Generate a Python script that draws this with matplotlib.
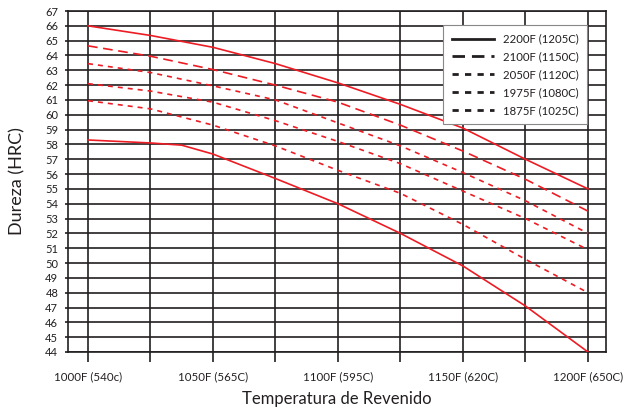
import matplotlib
matplotlib.use('Agg')
import matplotlib.pyplot as plt
from matplotlib.lines import Line2D

plt.rcParams['font.family'] = ['Lato', 'DejaVu Sans']
plt.rcParams['lines.scale_dashes'] = False

# temperatura de revenido (F)
temps = [1000, 1025, 1050, 1075, 1100, 1125, 1150, 1175, 1200]
hrc_2200 = [66.0, 65.35, 64.55, 63.45, 62.15, 60.7, 59.1, 57.0, 55.0]
hrc_2100 = [64.65, 63.95, 63.05, 62.0, 60.85, 59.3, 57.55, 55.65, 53.5]
hrc_2050 = [63.45, 62.85, 61.95, 61.0, 59.45, 57.9, 56.1, 54.2, 52.0]
hrc_1975 = [62.1, 61.6, 60.85, 59.6, 58.2, 56.7, 54.85, 53.0, 50.9]
hrc_1875 = [60.95, 60.4, 59.3, 57.9, 56.25, 54.7, 52.6, 50.25, 48.0]
# curva inferior (sem legenda)
temps_low = [1000, 1025, 1037.5, 1050, 1075, 1100, 1125, 1150, 1175, 1200]
hrc_low = [58.3, 58.1, 57.95, 57.35, 55.7, 54.0, 52.0, 49.8, 47.1, 44.0]

legend_labels = ['2200F (1205C)', '2100F (1150C)', '2050F (1120C)',
                 '1975F (1080C)', '1875F (1025C)']
x_ticks = [1000, 1050, 1100, 1150, 1200]
x_ticklabels = ['1000F (540c)', '1050F (565C)', '1100F (595C)',
                '1150F (620C)', '1200F (650C)']

red = '#ed1c24'
ink = '#231f20'
solid = '-'
long_dash = (0, (7, 4))
short_dash = (0, (3.6, 3.6))

fig = plt.figure(figsize=(6.26, 4.13), dpi=100)
ax = fig.add_axes([68 / 626, 1 - 352 / 413, 538 / 626, 341 / 413])

ax.plot(temps, hrc_2200, color=red, lw=1.2, ls=solid, zorder=3)
ax.plot(temps, hrc_2100, color=red, lw=1.2, ls=long_dash, zorder=3)
ax.plot(temps, hrc_2050, color=red, lw=1.2, ls=short_dash, zorder=3)
ax.plot(temps, hrc_1975, color=red, lw=1.2, ls=short_dash, zorder=3)
ax.plot(temps, hrc_1875, color=red, lw=1.2, ls=short_dash, zorder=3)
ax.plot(temps_low, hrc_low, color=red, lw=1.2, ls=solid, zorder=3)

ax.set_xlim(992, 1207.2)
ax.set_ylim(44, 67)

ax.set_xticks(range(1000, 1201, 25), minor=True)
ax.set_xticks(x_ticks)
ax.set_xticklabels(x_ticklabels)
ax.set_yticks(range(44, 68))
ax.tick_params(axis='x', which='both', length=7.2, width=1.2, color=ink,
               direction='out', pad=7, labelsize=8.3, labelcolor=ink)
ax.tick_params(axis='y', length=2.5, width=1.2, color=ink, direction='out',
               pad=4.5, labelsize=8, labelcolor=ink)
ax.grid(True, which='both', color=ink, lw=1.2, zorder=1)
for s in ax.spines.values():
    s.set_color(ink)
    s.set_linewidth(1.2)

ax.set_xlabel('Temperatura de Revenido', fontsize=12, color=ink, labelpad=6)
ax.set_ylabel('Dureza (HRC)', fontsize=13, color=ink, labelpad=14)

handles = [Line2D([], [], color=ink, lw=2, ls=st)
           for st in [solid, (0, (9, 5)), (0, (4.5, 4.5)), (0, (4.5, 4.5)), (0, (4.5, 4.5))]]
leg = ax.legend(handles, legend_labels, loc='upper right',
                bbox_to_anchor=(0.9647, 0.959), borderaxespad=0,
                fontsize=8.2, handlelength=3.7, handletextpad=0.75,
                labelspacing=0.6, fancybox=False, framealpha=1,
                edgecolor='#888888', borderpad=0.75)
leg.get_frame().set_linewidth(0.8)
for t in leg.get_texts():
    t.set_color(ink)
leg.set_zorder(5)

fig.savefig('out.png', dpi=100)
